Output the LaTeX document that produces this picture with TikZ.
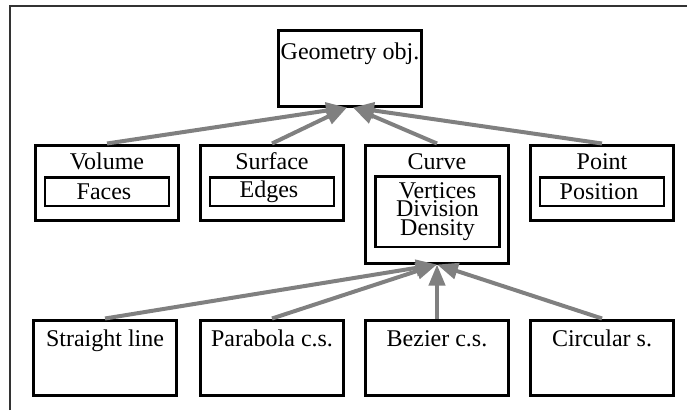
\documentclass[tikz,border=0pt]{standalone}
\usepackage{fontspec}
\setmainfont{Liberation Serif}
\usetikzlibrary{arrows.meta}
\usepackage{xcolor}

\begin{document}
\begin{tikzpicture}[x=1pt, y=-1pt,
    every node/.style={
        rectangle,
        draw,
        inner sep=0pt,
        font=\fontsize{24pt}{18.5pt}\selectfont
    },
    objbox/.style={
        line width=3pt,
        minimum width=143pt,
        anchor=north,
        text height=24pt,
        text depth=51pt
    },
    fieldbox/.style={
        line width=2.5pt,
        minimum width=124pt,
        minimum height=28.5pt,
        align=center
    },
    inherits/.style={
        -{Triangle[length=21pt, width=16pt]},
        gray,
        line width=4pt
    }
]
    \useasboundingbox (0, 0) rectangle (687, 410);
    \draw[line width=2pt, black!80] (10, 410) -- (10, 5.5) -- (687, 5.5);

    \node (geometry_obj) [objbox, text height=29.5pt, text depth=46.5pt] at (350, 28.5)
    {
        Geometry obj.
    };

    \node (volume) [objbox] at (107, 143.5)
    {
        Volume
    };
    \node (volume_faces) [fieldbox] at (107, 191.5)
    {
        Faces
    };
    \node (surface) [objbox] at (272, 143.5)
    {
        Surface
    };
    \node (surface_edges) [fieldbox] at (272, 191.5)
    {
        Edges
    };
    \node (curve) [objbox, text depth=94pt] at (437, 143.5)
    {
        Curve
    };
    \node (curve_fields) [fieldbox, minimum height=70.5pt] at (437.5, 211.5)
    {
        Vertices\\Division\\Density
    };
    \node (point) [objbox] at (602, 143.5)
    {
        Point
    };
    \node (point_position) [fieldbox] at (602, 191.5)
    {
        Position
    };

    \node (straight_line) [objbox, text height=26.5pt, text depth=48.5pt] at (105, 318.5)
    {
        Straight line
    };
    \node (parabola_cs) [objbox, text height=26.5pt, text depth=48.5pt] at (272, 318.5)
    {
        Parabola c.s.
    };
    \node (bezier_cs) [objbox, text height=26.5pt, text depth=48.5pt] at (437, 318.5)
    {
        Bezier c.s.
    };
    \node (circular_s) [objbox, text height=26.5pt, text depth=48.5pt] at (602, 318.5)
    {
        Circular s.
    };

    \draw[inherits] (volume.north) to ([xshift=-3pt]geometry_obj.south);
    \draw[inherits] (surface.north) to ([xshift=-3pt]geometry_obj.south);
    \draw[inherits] (curve.north) to ([xshift=3pt]geometry_obj.south);
    \draw[inherits] (point.north) to ([xshift=3pt]geometry_obj.south);

    \draw[inherits] (straight_line.north) to (curve.south);
    \draw[inherits] (parabola_cs.north) to (curve.south);
    \draw[inherits] (bezier_cs.north) to (curve.south);
    \draw[inherits] (circular_s.north) to (curve.south);
\end{tikzpicture}
\end{document}
